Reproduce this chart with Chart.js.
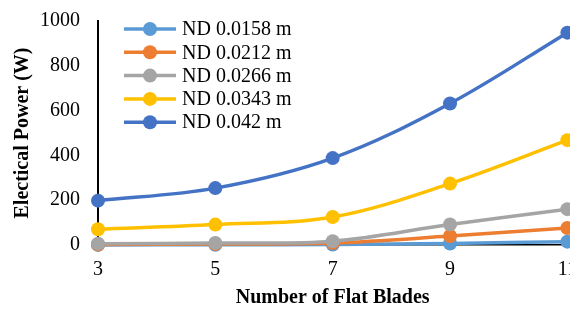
<!DOCTYPE html>
<html>
<head>
<meta charset="utf-8">
<script src="https://cdn.jsdelivr.net/npm/chart.js@4/dist/chart.umd.min.js"></script>
<style>
html,body{margin:0;padding:0;background:#fff;overflow:hidden;width:570px;height:313px;}
#wrap{position:relative;width:590px;height:313px;overflow:hidden;}
#c{position:absolute;left:0;top:-9px;}
</style>
</head>
<body>
<div id="wrap"><canvas id="c" width="590" height="322"></canvas></div>
<script>
const bladeCounts = [3, 5, 7, 9, 11];
const seriesLabels = ['ND 0.0158 m', 'ND 0.0212 m', 'ND 0.0266 m', 'ND 0.0343 m', 'ND 0.042 m'];
const nd0158 = [0.5, 1, 2, 7, 15];
const nd0212 = [2, 4, 9, 40, 76];
const nd0266 = [6, 9, 17, 92, 160];
const nd0343 = [70, 91, 125, 274, 468];
const nd0420 = [198, 254, 388, 632, 948];
const yTicks = [0, 200, 400, 600, 800, 1000];
const seriesColors = ['#5B9BD5', '#ED7D31', '#A5A5A5', '#FFC000', '#4472C4'];

const allSeries = [nd0158, nd0212, nd0266, nd0343, nd0420];
const FONT = "'Liberation Serif','Times New Roman',serif";
const SHIFT = 9;

const datasets = allSeries.map((vals, i) => ({
  label: seriesLabels[i],
  data: bladeCounts.map((x, j) => ({x: x, y: vals[j]})),
  borderColor: seriesColors[i],
  backgroundColor: seriesColors[i],
  borderWidth: 3.5,
  pointRadius: 7,
  pointHoverRadius: 7,
  pointBorderWidth: 0,
  tension: 0.35,
  order: 5 - i,
  clip: false
}));

const legendPlugin = {
  id: 'insideLegend',
  afterDraw(chart) {
    const ctx = chart.ctx;
    ctx.save();
    chart.data.datasets.forEach((ds, i) => {
      const y = 29 + SHIFT + i * 23.3;
      ctx.strokeStyle = ds.borderColor;
      ctx.lineWidth = 3.5;
      ctx.beginPath();
      ctx.moveTo(124, y);
      ctx.lineTo(176, y);
      ctx.stroke();
      ctx.fillStyle = ds.borderColor;
      ctx.beginPath();
      ctx.arc(150, y, 7, 0, Math.PI * 2);
      ctx.fill();
      ctx.fillStyle = '#000';
      ctx.font = '20px ' + FONT;
      ctx.textBaseline = 'middle';
      ctx.textAlign = 'left';
      ctx.fillText(ds.label, 182, y + 1);
    });
    ctx.restore();
  }
};

new Chart(document.getElementById('c'), {
  type: 'line',
  data: { datasets: datasets },
  options: {
    responsive: false,
    animation: false,
    events: [],
    layout: { padding: { top: 0, right: 16, left: 0, bottom: 0 } },
    plugins: { legend: { display: false }, tooltip: { enabled: false } },
    scales: {
      x: {
        type: 'linear',
        min: 3, max: 11,
        afterBuildTicks(scale) { scale.ticks = bladeCounts.map(v => ({value: v})); },
        afterFit(scale) { scale.height = 322 - SHIFT - 245; },
        grid: { display: false, drawTicks: false },
        border: { display: true, color: '#000', width: 1.5 },
        ticks: { color: '#000', font: { family: FONT, size: 20 }, padding: 13, callback: v => String(v) },
        title: { display: true, text: 'Number of Flat Blades', color: '#000',
                 font: { family: FONT, size: 20, weight: 'bold' }, padding: { top: 0, bottom: 3 } }
      },
      y: {
        min: 0, max: 1000,
        afterBuildTicks(scale) { scale.ticks = yTicks.map(v => ({value: v})); },
        afterFit(scale) { scale.width = 98; },
        grid: { display: false, drawTicks: false },
        border: { display: true, color: '#000', width: 2 },
        ticks: { color: '#000', font: { family: FONT, size: 20 }, padding: 18, callback: v => String(v) },
        title: { display: true, text: 'Electical Power (W)', color: '#000',
                 font: { family: FONT, size: 20, weight: 'bold' }, padding: { top: 11, bottom: 0 } }
      }
    }
  },
  plugins: [legendPlugin]
});
</script>
</body>
</html>
